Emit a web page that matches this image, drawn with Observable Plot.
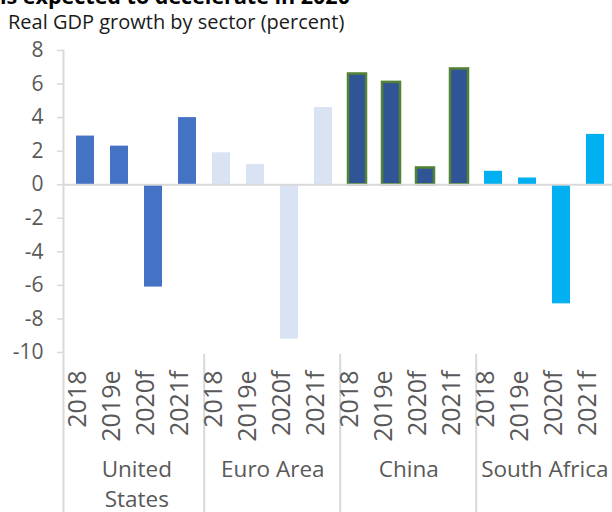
<!DOCTYPE html>
<html>
<head>
<meta charset="utf-8">
<script src="https://cdn.jsdelivr.net/npm/d3@7"></script>
<script src="https://cdn.jsdelivr.net/npm/@observablehq/plot@0.6"></script>
<style>
  html, body { margin: 0; padding: 0; background: #fff; }
  #wrap { position: relative; width: 612px; height: 512px; overflow: hidden; font-family: "Open Sans", sans-serif; }
  #title { position: absolute; left: 0; top: -15px; font-size: 21.5px; line-height: 21px; font-weight: 700; color: #000; white-space: nowrap; }
  #subtitle { position: absolute; left: 8px; top: 12px; font-size: 20px; line-height: 20px; color: #1a1a1a; white-space: nowrap; }
  #chart { position: absolute; left: 0; top: 0; }
</style>
</head>
<body>
<div id="wrap">
  <div id="chart"></div>
  <div id="title">is expected to decelerate in 2020</div>
  <div id="subtitle">Real GDP growth by sector (percent)</div>
</div>
<script>
const groups = ["United States", "Euro Area", "China", "South Africa"];
const groupLabels = ["United\nStates", "Euro Area", "China", "South Africa"];
const years = ["2018", "2019e", "2020f", "2021f"];
const usValues = [2.9, 2.3, -6.1, 4.0];
const euroValues = [1.9, 1.2, -9.2, 4.6];
const chinaValues = [6.6, 6.1, 1.0, 6.9];
const saValues = [0.8, 0.4, -7.1, 3.0];
const yTicks = [8, 6, 4, 2, 0, -2, -4, -6, -8, -10];
const groupColors = ["#4472C4", "#DAE3F3", "#2F5597", "#00B0F0"];

const seriesValues = [usValues, euroValues, chinaValues, saValues];
const key = (g, y) => g + "|" + y;
const data = [];
groups.forEach((g, gi) => years.forEach((yr, yi) => {
  data.push({group: g, year: yr, key: key(g, yr), value: seriesValues[gi][yi]});
}));
const keys = data.map(d => d.key);
const step = (617 - 63) / keys.length;

const groupData = groups.map((g, i) => ({group: g, label: groupLabels[i], key: key(g, years[1])}));
const sepData = groups.slice(1).map(g => key(g, years[0]));

const chart = Plot.plot({
  width: 612,
  height: 512,
  marginTop: 50,
  marginBottom: 160,
  marginLeft: 63,
  marginRight: 0,
  style: {fontFamily: "'Open Sans', sans-serif", background: "transparent"},
  x: {type: "band", domain: keys, range: [63, 617], paddingInner: 0.48, paddingOuter: 0.24, axis: null},
  y: {domain: [-10, 8]},
  color: {domain: groups, range: groupColors},
  marks: [
    Plot.frame({anchor: "left", stroke: "#d9d9d9", strokeWidth: 2, insetBottom: -160}),
    Plot.ruleX(sepData, {x: d => d, dx: -step / 2, stroke: "#d9d9d9", strokeWidth: 2, insetTop: 304, insetBottom: -160}),
    Plot.axisY({ticks: yTicks, tickFormat: d => String(d), tickSize: 6, tickPadding: 14, stroke: "#d9d9d9", strokeWidth: 1.5, fill: "#595959", fontSize: 21, label: null}),
    Plot.barY(data, {x: "key", y: "value", fill: "group"}),
    Plot.barY(data.filter(d => d.group === "China"), {x: "key", y: "value", fill: "group", stroke: "#548235", strokeWidth: 2.5}),
    Plot.ruleY([0], {stroke: "#d9d9d9", strokeWidth: 2}),
    Plot.text(data, {x: "key", text: "year", frameAnchor: "bottom", dy: 18, rotate: -90, textAnchor: "end", fontSize: 25, fill: "#595959"}),
    Plot.text(groupData, {x: "key", dx: step / 2, text: "label", frameAnchor: "bottom", dy: 104, lineAnchor: "top", lineHeight: 1.3, fontSize: 22.5, fill: "#595959"})
  ]
});
document.getElementById("chart").appendChild(chart);
</script>
</body>
</html>
